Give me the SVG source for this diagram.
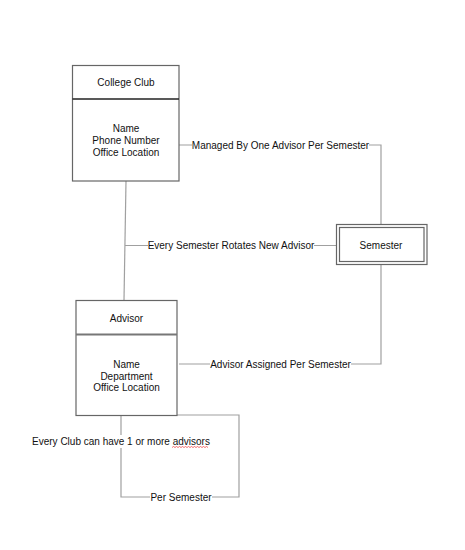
<svg xmlns="http://www.w3.org/2000/svg" width="465" height="550" viewBox="0 0 465 550">
<style>
.box{fill:#fff;stroke:#666;stroke-width:1.2}
.div{stroke:#222;stroke-width:1.3}
.div2{stroke:#777;stroke-width:2}
.ln{fill:none;stroke:#a0a0a0;stroke-width:1.2}
text{font-family:"Liberation Sans",Arial,sans-serif;font-size:10px;fill:#111}
.c{text-anchor:middle}
.bg{fill:#fff}
</style>
<rect width="465" height="550" fill="#fff"/>
<g id="connectors">
<path class="ln" d="M126,181 L124,300"/>
<path class="ln" d="M125,245.5 L336,245.5"/>
<path class="ln" d="M179,145 L381,145 L381,224"/>
<path class="ln" d="M381,264 L381,364 L179,364"/>
<path class="ln" d="M121,416 L121,497 L239,497 L239,415 L177,415"/>
<rect class="bg" x="148" y="239" width="166" height="13"/>
<text x="231" y="249" class="c">Every Semester Rotates New Advisor</text>
<rect class="bg" x="192" y="139" width="177" height="13"/>
<text x="280.5" y="148.5" class="c">Managed By One Advisor Per Semester</text>
<rect class="bg" x="210" y="358" width="141" height="13"/>
<text x="280.5" y="367.5" class="c">Advisor Assigned Per Semester</text>
<rect class="bg" x="32" y="435" width="178" height="13"/>
<text x="121" y="444.5" class="c">Every Club can have 1 or more advisors</text>
<path d="M172,447.5 l1.5,-1 1.5,1 1.5,-1 1.5,1 1.5,-1 1.5,1 1.5,-1 1.5,1 1.5,-1 1.5,1 1.5,-1 1.5,1 1.5,-1 1.5,1 1.5,-1 1.5,1 1.5,-1 1.5,1 1.5,-1 1.5,1 1.5,-1 1.5,1 1.5,-1 1.5,1" fill="none" stroke="#e33" stroke-width="0.7"/>
<rect class="bg" x="150" y="491" width="62" height="13"/>
<text x="181" y="500.5" class="c">Per Semester</text>
</g>
<g id="college-club">
<rect class="box" x="72.5" y="65.5" width="106.5" height="115.5"/>
<line class="div" x1="72.5" y1="99" x2="179" y2="99"/>
<text x="126" y="86" class="c">College Club</text>
<text x="126" y="132" class="c">Name</text>
<text x="126" y="144" class="c">Phone Number</text>
<text x="126" y="156" class="c">Office Location</text>
</g>
<g id="semester">
<rect class="box" x="336.5" y="224.5" width="90.5" height="40"/>
<rect class="box" x="339.5" y="227.5" width="84.5" height="34"/>
<text x="381" y="248.5" class="c">Semester</text>
</g>
<g id="advisor">
<rect class="box" x="76" y="300.5" width="101" height="115"/>
<line class="div2" x1="76" y1="334.5" x2="177" y2="334.5"/>
<text x="126.5" y="322" class="c">Advisor</text>
<text x="126.5" y="368" class="c">Name</text>
<text x="126.5" y="380" class="c">Department</text>
<text x="126.5" y="391" class="c">Office Location</text>
</g>
</svg>
